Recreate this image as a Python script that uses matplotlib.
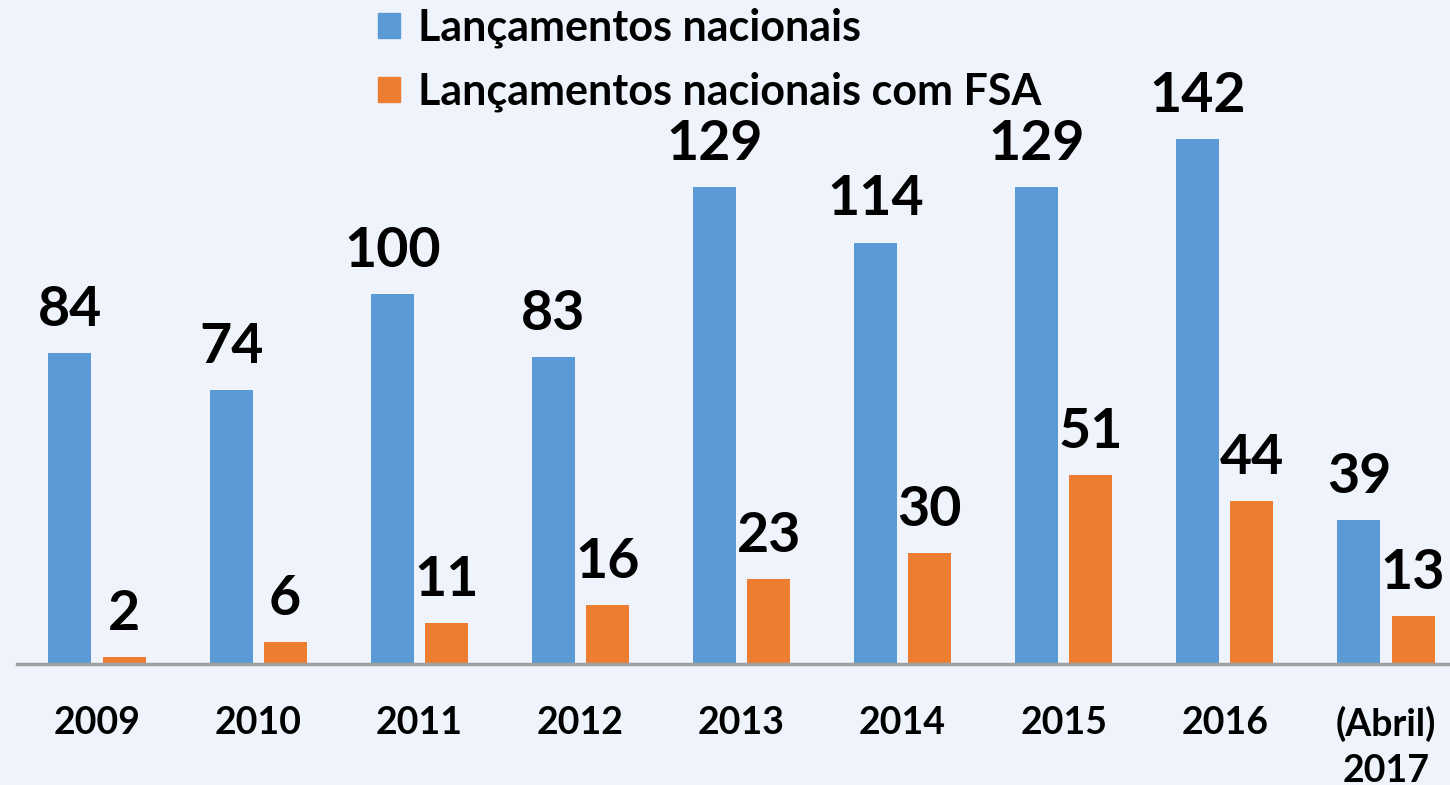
import matplotlib
matplotlib.use("Agg")
import matplotlib.pyplot as plt
from matplotlib.patches import Patch
import numpy as np

categories = ["2009", "2010", "2011", "2012", "2013", "2014", "2015", "2016", "(Abril)\n2017"]
nacionais = [84, 74, 100, 83, 129, 114, 129, 142, 39]
com_fsa = [2, 6, 11, 16, 23, 30, 51, 44, 13]
series_names = ["Lançamentos nacionais", "Lançamentos nacionais com FSA"]

BLUE = "#5B9BD5"
ORANGE = "#ED7D31"
BG = "#EFF3FB"

plt.rcParams['font.family'] = ['Lato', 'DejaVu Sans']
plt.rcParams['font.weight'] = 'bold'

W, H = 1450, 785
fig = plt.figure(figsize=(W/100, H/100), dpi=100, facecolor=BG)
left, right = 16.5, 1466.5
bottom_px, top_px = 664, 0
ax = fig.add_axes([left/W, 1 - bottom_px/H, (right-left)/W, (bottom_px-top_px)/H])
ax.set_facecolor(BG)

x = np.arange(len(categories))
w = 0.267
off = 0.168
b1 = ax.bar(x - off, nacionais, w, color=BLUE)
b2 = ax.bar(x + off, com_fsa, w, color=ORANGE)

ax.set_xlim(-0.5, len(categories) - 0.5)
ax.set_ylim(0, 664/3.697)

for bars in (b1, b2):
    ax.bar_label(bars, padding=13, fontsize=40, fontweight='bold', color='black')

for s in ['top', 'right', 'left']:
    ax.spines[s].set_visible(False)
ax.spines['bottom'].set_color('#A0A0A0')
ax.spines['bottom'].set_linewidth(2.5)
ax.set_yticks([])
ax.set_xticks(x)
ax.set_xticklabels(categories, fontsize=27, fontweight='bold', linespacing=1.45)
ax.tick_params(axis='x', length=0, pad=30)

handles = [Patch(color=BLUE), Patch(color=ORANGE)]
fig.legend(handles, series_names, loc='upper left', bbox_to_anchor=(378/W, 1 - 8/H),
           frameon=False, prop={'weight': 'bold', 'size': 31},
           handlelength=0.51, handleheight=0.51, handletextpad=0.42,
           labelspacing=0.54, borderpad=0, borderaxespad=0)

fig.savefig("out.png", dpi=100, facecolor=BG)
